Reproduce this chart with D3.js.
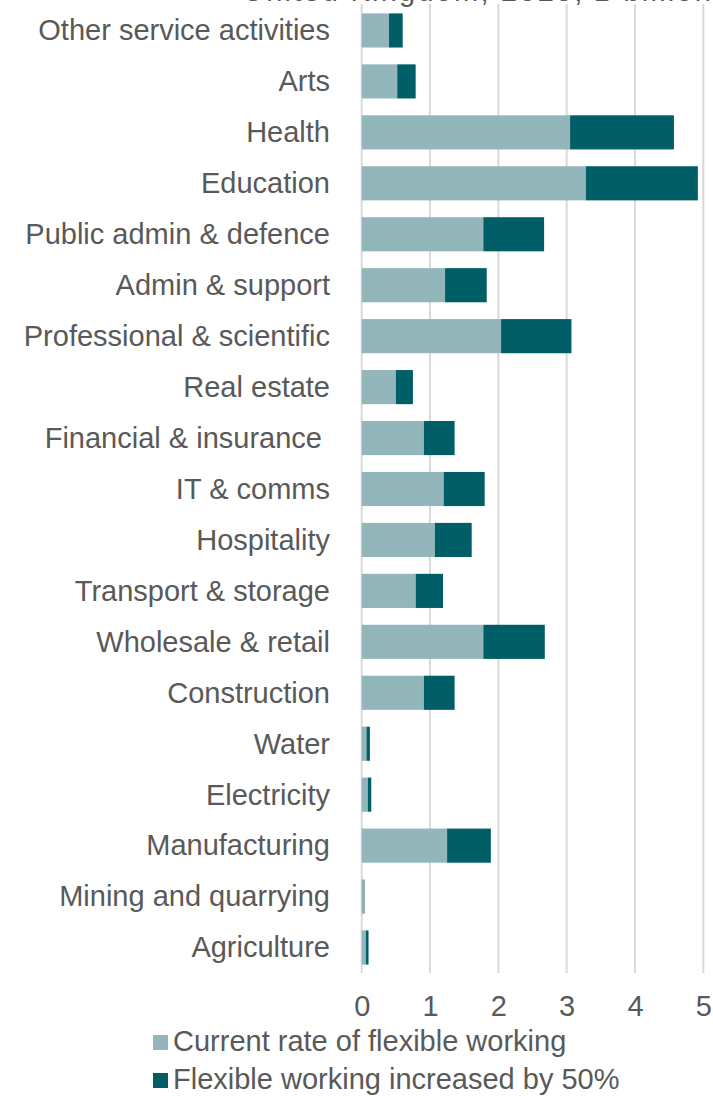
<!DOCTYPE html>
<html>
<head>
<meta charset="utf-8">
<script src="https://cdn.jsdelivr.net/npm/d3@7"></script>
<style>
  html, body { margin: 0; padding: 0; background: #ffffff; }
  svg { display: block; }
  text { font-family: "Century Gothic", "Liberation Sans", Arial, sans-serif; fill: #595959; }
</style>
</head>
<body>
<svg id="chart" width="713" height="1096"></svg>
<script>
// Sectors, top to bottom
const sectors = [
  "Other service activities", "Arts", "Health", "Education",
  "Public admin & defence", "Admin & support", "Professional & scientific",
  "Real estate", "Financial & insurance ", "IT & comms", "Hospitality",
  "Transport & storage", "Wholesale & retail", "Construction", "Water",
  "Electricity", "Manufacturing", "Mining and quarrying", "Agriculture"
];
// Current rate of flexible working (£ billion)
const currentRate = [
  0.40, 0.52, 3.05, 3.28, 1.78, 1.22, 2.04, 0.50, 0.91, 1.20, 1.07,
  0.79, 1.78, 0.91, 0.07, 0.09, 1.25, 0.03, 0.06
];
// Additional value if flexible working increased by 50% (£ billion)
const increase50 = [
  0.20, 0.27, 1.52, 1.64, 0.89, 0.61, 1.03, 0.25, 0.45, 0.60, 0.54,
  0.40, 0.90, 0.45, 0.05, 0.05, 0.64, 0.01, 0.04
];
const seriesNames = ["Current rate of flexible working", "Flexible working increased by 50%"];
const seriesColors = ["#93b6bb", "#005f66"];
const xTicks = [0, 1, 2, 3, 4, 5];
const titleText = "United Kingdom, 2025, £ billion";

const svg = d3.select("#chart");
const fontSize = 29;

const x = d3.scaleLinear().domain([0, 5]).range([361.7, 703.3]);
const y = d3.scaleBand().domain(sectors).range([5, 973])
  .paddingInner(0.33).paddingOuter(0.165);

// Title (its upper part runs off the top of the frame)
svg.append("text")
  .attr("x", 243).attr("y", 1)
  .attr("text-anchor", "start")
  .attr("textLength", 468)
  .attr("lengthAdjust", "spacing")
  .style("font-size", fontSize + "px")
  .text(titleText);

// Vertical gridlines
svg.append("g").selectAll("line")
  .data(xTicks).join("line")
  .attr("x1", d => x(d)).attr("x2", d => x(d))
  .attr("y1", 4).attr("y2", 973)
  .attr("stroke", "#d9d9d9").attr("stroke-width", 2);

// Stacked bars
const rows = sectors.map((s, i) => ({ sector: s, current: currentRate[i], extra: increase50[i] }));
const stacked = d3.stack().keys(["current", "extra"])(rows);

svg.append("g").selectAll("g")
  .data(stacked).join("g")
  .attr("fill", (d, i) => seriesColors[i])
  .selectAll("rect")
  .data(d => d).join("rect")
  .attr("x", d => x(d[0]))
  .attr("y", d => y(d.data.sector))
  .attr("width", d => x(d[1]) - x(d[0]))
  .attr("height", y.bandwidth());

// Category labels
svg.append("g").selectAll("text")
  .data(sectors).join("text")
  .attr("x", 330)
  .attr("y", d => y(d) + y.bandwidth() / 2)
  .attr("dy", "0.34em")
  .attr("text-anchor", "end")
  .style("white-space", "pre")
  .style("font-size", fontSize + "px")
  .text(d => d);

// X axis labels
const xAxis = d3.axisBottom(x).tickValues(xTicks).tickFormat(d3.format("d"))
  .tickSize(0).tickPadding(0);
const gx = svg.append("g").attr("transform", "translate(0,995)").call(xAxis);
gx.select(".domain").remove();
gx.selectAll("text")
  .attr("y", 0).attr("dy", "0.72em")
  .style("font-size", fontSize + "px")
  .style("font-family", "\"Century Gothic\", \"Liberation Sans\", Arial, sans-serif")
  .attr("fill", "#595959");

// Legend
const legend = svg.append("g").selectAll("g")
  .data(seriesNames).join("g")
  .attr("transform", (d, i) => `translate(153,${1035 + i * 38})`);
legend.append("rect")
  .attr("width", 15).attr("height", 15)
  .attr("fill", (d, i) => seriesColors[i]);
legend.append("text")
  .attr("x", 20).attr("y", 16)
  .style("font-size", fontSize + "px")
  .text(d => d);
</script>
</body>
</html>
